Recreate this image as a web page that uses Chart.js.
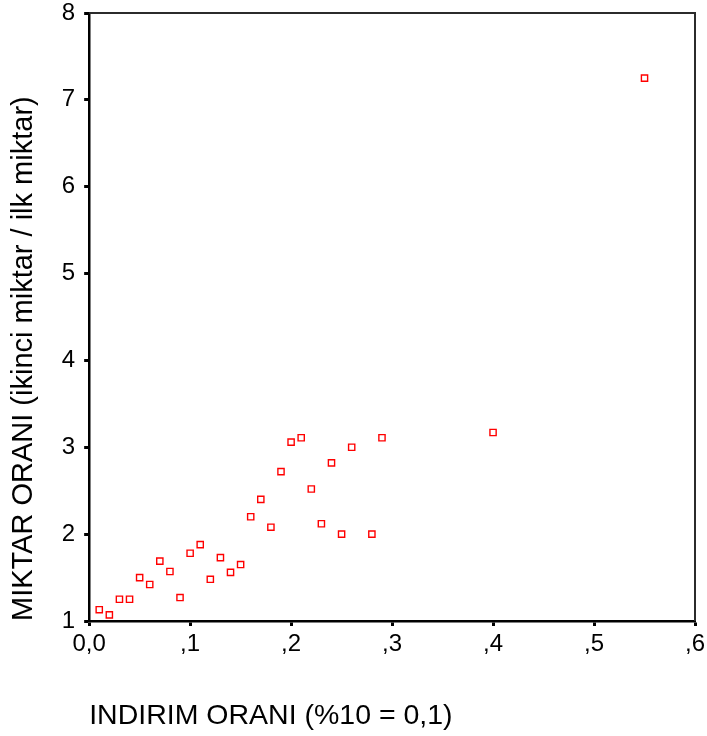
<!DOCTYPE html>
<html>
<head>
<meta charset="utf-8">
<script src="https://cdn.jsdelivr.net/npm/chart.js@4.4.1/dist/chart.umd.min.js"></script>
<style>
    html, body { margin: 0; padding: 0; background: #fff; }
    #wrap { width: 707px; height: 736px; }
</style>
</head>
<body>
<div id="wrap"><canvas id="scatter"></canvas></div>
<script>
// Discount ratio (x) vs quantity ratio (y)
const indirimOrani = [
    0.01, 0.02, 0.03, 0.04, 0.05, 0.06, 0.07, 0.08, 0.09, 0.10,
    0.11, 0.12, 0.13, 0.14, 0.15, 0.16, 0.17, 0.18, 0.19, 0.20,
    0.21, 0.22, 0.23, 0.24, 0.25, 0.26, 0.28, 0.29, 0.40, 0.55
];
const miktarOrani = [
    1.13, 1.07, 1.25, 1.25, 1.50, 1.42, 1.69, 1.57, 1.27, 1.78,
    1.88, 1.48, 1.73, 1.56, 1.65, 2.20, 2.40, 2.08, 2.72, 3.06,
    3.11, 2.52, 2.12, 2.82, 2.00, 3.00, 2.00, 3.11, 3.17, 7.25
];

// Axis tick labels (comma decimal, leading zero dropped)
const xTickLabels = ['0,0', ',1', ',2', ',3', ',4', ',5', ',6'];
const yTickValues = [1, 2, 3, 4, 5, 6, 7, 8];

const FONT = "'Liberation Sans', Arial, Helvetica, sans-serif";

const points = indirimOrani.map((x, i) => ({ x: x, y: miktarOrani[i] }));

// Closes the plot box along the top and right edges
const frameBox = {
    id: 'frameBox',
    afterDraw(chart) {
        const { ctx, chartArea } = chart;
        ctx.save();
        ctx.strokeStyle = '#2b2b2b';
        ctx.lineWidth = 2;
        ctx.beginPath();
        ctx.moveTo(chartArea.left, chartArea.top);
        ctx.lineTo(chartArea.right, chartArea.top);
        ctx.lineTo(chartArea.right, chartArea.bottom);
        ctx.stroke();
        ctx.restore();
    }
};

new Chart(document.getElementById('scatter'), {
    type: 'scatter',
    data: {
        datasets: [{
            data: points,
            pointStyle: 'rect',
            pointRadius: 4.4,
            pointHoverRadius: 4.4,
            pointBorderWidth: 1.4,
            borderColor: '#ff0000',
            backgroundColor: '#ffffff'
        }]
    },
    options: {
        responsive: true,
        maintainAspectRatio: false,
        animation: false,
        layout: { padding: { left: 3, right: 0, top: 0, bottom: 0 } },
        plugins: {
            legend: { display: false },
            tooltip: { enabled: false }
        },
        scales: {
            x: {
                type: 'linear',
                min: 0,
                max: 0.6,
                afterBuildTicks(scale) {
                    scale.ticks = xTickLabels.map((_, i) => ({ value: i / 10 }));
                },
                // let the last label hang closer to the edge
                afterFit(scale) {
                    scale.paddingRight = 12;
                },
                ticks: {
                    color: '#000',
                    font: { family: FONT, size: 24 },
                    padding: 4,
                    maxRotation: 0,
                    callback: (v, i) => xTickLabels[i]
                },
                grid: {
                    drawOnChartArea: false,
                    color: '#000',
                    tickLength: 5,
                    tickWidth: 3
                },
                border: { color: '#000', width: 2.5 },
                title: {
                    display: true,
                    text: 'INDIRIM ORANI (%10 = 0,1)',
                    align: 'start',
                    color: '#000',
                    font: { family: FONT, size: 28.5 },
                    padding: { top: 36, bottom: 3 }
                }
            },
            y: {
                type: 'linear',
                min: 1,
                max: 8,
                afterBuildTicks(scale) {
                    scale.ticks = yTickValues.map(v => ({ value: v }));
                },
                afterFit(scale) {
                    scale.paddingTop = 13;
                },
                ticks: {
                    color: '#000',
                    font: { family: FONT, size: 24 },
                    padding: 9
                },
                grid: {
                    drawOnChartArea: false,
                    color: '#000',
                    tickLength: 5,
                    tickWidth: 3
                },
                border: { color: '#000', width: 2.5 },
                title: {
                    display: true,
                    text: 'MIKTAR ORANI (ikinci miktar / ilk miktar)',
                    align: 'start',
                    color: '#000',
                    font: { family: FONT, size: 29 },
                    padding: { top: 4, bottom: 11 }
                }
            }
        }
    },
    plugins: [frameBox]
});
</script>
</body>
</html>
